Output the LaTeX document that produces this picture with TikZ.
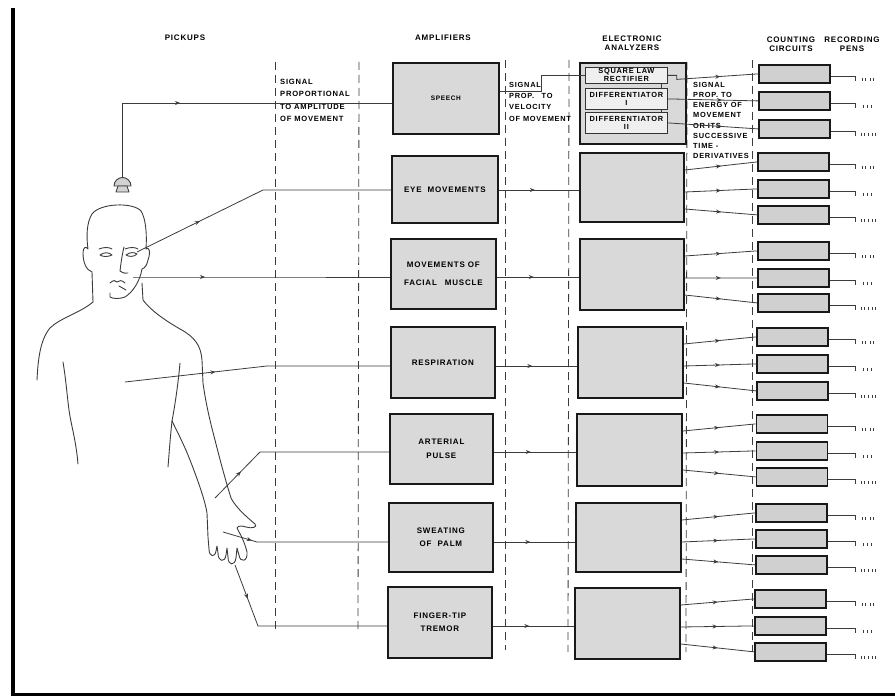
\documentclass[tikz,border=0pt]{standalone}
\usepackage{fontspec}
\newfontfamily\lab[LetterSpace=10]{Liberation Sans}
\usetikzlibrary{decorations.markings,calc,arrows.meta}

\definecolor{ink}{HTML}{3C3C3C}
\definecolor{boxfill}{HTML}{D9D9D9}
\definecolor{cntfill}{HTML}{D0D0D0}
\definecolor{innerfill}{HTML}{EFEFEF}

\tikzset{
  wire/.style={draw=ink, line width=0.8pt},
  arr/.style={postaction={decorate},
    decoration={markings, mark=at position #1 with {\arrow[ink]{Stealth[length=5pt,width=4pt]}}}},
  arr/.default=0.5,
  ampbox/.style={draw=black!90, line width=1.8pt, fill=boxfill, inner sep=0pt, align=center,
    anchor=north west, font=\lab\bfseries\fontsize{8}{13.5}\selectfont},
  anbox/.style={draw=black!90, line width=1.8pt, fill=boxfill, inner sep=0pt, anchor=north west},
  cntbox/.style={draw=black!90, line width=1.8pt, fill=cntfill, minimum width=71pt,
    minimum height=18pt, inner sep=0pt, anchor=north west},
  inbox/.style={draw=black!80, line width=0.8pt, fill=innerfill, inner sep=0pt, align=center,
    anchor=north west, minimum width=82pt, font=\lab\bfseries\fontsize{7.4}{8}\selectfont},
  sep/.style={draw=ink, line width=0.8pt, dash pattern=on 8pt off 5pt},
  head/.style={font=\lab\bfseries\fontsize{8}{9}\selectfont, align=center, inner sep=0pt},
  note/.style={font=\lab\bfseries\fontsize{7.8}{11.3}\selectfont, align=left, inner sep=0pt, anchor=north west},
  body/.style={draw=ink, line width=0.9pt, line cap=round, line join=round},
}

\begin{document}
\begin{tikzpicture}[x=1pt,y=-1pt]
\useasboundingbox (0,0) rectangle (895,698);
\fill[white] (0,0) rectangle (895,698);

% frame
\draw[line width=3.5pt, black] (13,8) -- (13,694);
\draw[line width=3pt, black] (11.25,694) -- (895,694);

% column headings
\node[head] (hPick) at (185,38) {PICKUPS};
\node[head] (hAmp) at (443,38) {AMPLIFIERS};
\node[head] (hAna) at (632,43) {ELECTRONIC\\ANALYZERS};
\node[head] (hCnt) at (791,44) {COUNTING\\CIRCUITS};
\node[head] (hPen) at (852,44) {RECORDING\\PENS};

% dashed column separators
\draw[sep] (275,62) -- (275,632);
\draw[sep] (359,62) -- (358,632);
\draw[sep] (505,60) -- (505,650);
\draw[sep] (569,60) -- (568,652);
\draw[sep] (687,62) -- (686,652);
\draw[sep] (752,60) -- (752,652);

% signal notes
\node[note, font=\lab\bfseries\fontsize{7.6}{12.3}\selectfont] (nAmpl) at (280,79)
  {SIGNAL\\PROPORTIONAL\\TO AMPLITUDE\\OF MOVEMENT};
\node[note, font=\lab\bfseries\fontsize{7.4}{11.3}\selectfont] (nVel) at (509,82) {SIGNAL\\PROP.\quad TO\\VELOCITY\\OF MOVEMENT};
\node[note, font=\lab\bfseries\fontsize{7.4}{10.2}\selectfont] (nEn) at (693,82)
  {SIGNAL\\PROP. TO\\ENERGY OF\\MOVEMENT\\OR ITS\\SUCCESSIVE\\TIME -\\DERIVATIVES};

% amplifiers
\node[ampbox, minimum width=106pt, minimum height=71pt, font=\lab\bfseries\fontsize{6.5}{8}\selectfont] (amp1) at (392,62) {SPEECH};
\node[ampbox, minimum width=106pt, minimum height=67pt] (amp2) at (391,155) {EYE\ \ MOVEMENTS};
\node[ampbox, minimum width=105pt, minimum height=70pt] (amp3) at (390,238) {MOVEMENTS OF\\[5pt]FACIAL\quad MUSCLE};
\node[ampbox, minimum width=104pt, minimum height=71pt] (amp4) at (390,326) {RESPIRATION};
\node[ampbox, minimum width=103pt, minimum height=70pt] (amp5) at (389,413) {ARTERIAL\\PULSE};
\node[ampbox, minimum width=104pt, minimum height=69pt] (amp6) at (388,502) {SWEATING\\OF\ \ PALM};
\node[ampbox, minimum width=104pt, minimum height=71pt] (amp7) at (387,586) {FINGER-TIP\\TREMOR};

% electronic analyzers
\node[anbox, minimum width=106pt, minimum height=81pt] (an1) at (579,62) {};
\node[anbox, minimum width=104pt, minimum height=69pt] (an2) at (579,152) {};
\node[anbox, minimum width=104pt, minimum height=71pt] (an3) at (579,238) {};
\node[anbox, minimum width=105pt, minimum height=71pt] (an4) at (577,326) {};
\node[anbox, minimum width=105pt, minimum height=72pt] (an5) at (576,413) {};
\node[anbox, minimum width=105pt, minimum height=69pt] (an6) at (575,502) {};
\node[anbox, minimum width=105pt, minimum height=71pt] (an7) at (574,587) {};

% speech analyzer stages
\node[inbox, minimum height=16pt] (sq) at (585,67) {SQUARE LAW\\RECTIFIER};
\node[inbox, minimum height=21pt] (d1) at (585,88) {DIFFERENTIATOR\\I};
\node[inbox, minimum height=21pt] (d2) at (585,112) {DIFFERENTIATOR\\II};
\draw[wire] ($(sq.south east)+(-6,0)$) -- ($(d1.north east)+(-6,0)$);
\draw[wire] ($(d1.south east)+(-6,0)$) -- ($(d2.north east)+(-6,0)$);

% counting circuits and recording pens
\foreach \g/\ta/\tb/\tc in {1/64/91/119, 2/152/179/205, 3/241/268/293, 4/327/354/381,
                            5/414/441/467, 6/503/529/555, 7/589/616/642}{
  \foreach \k/\t/\ticks in {1/\ta/{7,10,15,18}, 2/\tb/{8,12,16}, 3/\tc/{6,9,13,17,20}}{
    \node[cntbox] (c\g\k) at ({758-0.6*(\g-1)},\t) {};
    \coordinate (p\g\k) at (855,{\t+12});
    \draw[wire] (c\g\k.east |- p\g\k) -- (p\g\k) -- ++(0,5);
    \foreach \m in \ticks
      \draw[ink, line width=0.7pt] ($(p\g\k)+(\m,2)$) -- ++(0,3);
  }
}

% human figure
\draw[body] (93,302) -- (92,272) .. controls (86,270) and (83,262) .. (83,253)
  .. controls (83,247) and (86,246) .. (88,249) .. controls (86,235) and (87,222) .. (92,214)
  .. controls (100,203) and (133,202) .. (141,211) .. controls (146,219) and (147,235) .. (146,249)
  .. controls (149,246) and (151,252) .. (148,260) .. controls (147,265) and (145,268) .. (142,269)
  .. controls (140,281) and (133,292) .. (125,297) .. controls (120,299) and (113,299) .. (110,297)
  -- (110,293);
\draw[body] (142,283) -- (143,300) .. controls (152,312) and (168,322) .. (180,329)
  .. controls (195,337) and (201,346) .. (202,360) -- (203,383)
  .. controls (206,405) and (211,425) .. (215,440) .. controls (220,460) and (226,482) .. (231,498)
  .. controls (236,508) and (248,518) .. (255,524) .. controls (258,527) and (252,529) .. (246,527)
  .. controls (242,526) and (239,525) .. (237,528) .. controls (240,534) and (244,540) .. (247,552)
  .. controls (248,562) and (240,563) .. (239,555) -- (237,548) -- (236,558)
  .. controls (235,566) and (228,566) .. (228,557) -- (227,548) -- (226,555)
  .. controls (225,563) and (218,562) .. (218,553) -- (217,546) -- (216,551)
  .. controls (215,558) and (209,557) .. (209,549) -- (208,537) -- (207,513)
  .. controls (205,500) and (197,478) .. (190,460) .. controls (185,447) and (178,433) .. (172,421);
\draw[body] (180,363) .. controls (178,385) and (175,405) .. (172,421)
  .. controls (170,440) and (169,455) .. (168,467);
\draw[body] (93,302) .. controls (80,313) and (60,318) .. (50,328)
  .. controls (40,340) and (38,360) .. (37,380);
\draw[body] (63,362) .. controls (66,380) and (67,395) .. (69,410)
  .. controls (71,425) and (76,440) .. (78,464);
% face
\draw[body] (99,249) .. controls (104,247) and (109,247) .. (112,249);
\draw[body] (100,255) .. controls (104,252) and (109,252) .. (112,255) .. controls (108,257) and (103,257) .. (100,255);
\draw[body] (125,249) .. controls (130,247) and (135,247) .. (138,249);
\draw[body] (126,255) .. controls (130,252) and (134,252) .. (137,254) .. controls (134,257) and (129,257) .. (126,255);
\draw[body] (124,247) .. controls (122,255) and (121,263) .. (120,271) .. controls (123,273) and (126,274) .. (128,273);
\draw[body] (110,283) .. controls (113,280) and (116,280) .. (117,282) .. controls (119,280) and (122,280) .. (125,283);
\draw[body] (119,286) -- (126,290);

% microphone
\filldraw[body, fill=gray!35] (114,186) arc[start angle=180, end angle=360, radius=8.5] -- cycle;
\filldraw[body, fill=gray!35] (118,186) -- (127,186) -- (129,192) -- (116,192) -- cycle;

% pickup points and bends
\coordinate (pk1) at (122.5,177.5); \coordinate (b1) at (122.5,103);
\coordinate (pk2) at (137,252);     \coordinate (b2) at (263,190);
\coordinate (pk3) at (133,277);     \coordinate (b3) at (263,277);
\coordinate (pk4) at (125,382);     \coordinate (b4) at (267,366);
\coordinate (pk5) at (215,498);     \coordinate (b5) at (260,452);
\coordinate (pk6) at (223,532);     \coordinate (b6) at (257,542);
\coordinate (pk7) at (235,565);     \coordinate (b7) at (258,626);

% pickups to amplifiers
\draw[wire, arr=132pt] (pk1) -- (b1) -- (amp1.west |- b1);
\draw[wire, arr=70pt]  (pk2) -- (b2) -- (amp2.west |- b2);
\draw[wire, arr=72pt]  (pk3) -- (b3) -- (amp3.west |- b3);
\draw[wire, arr=91pt]  (pk4) -- (b4) -- (amp4.west |- b4);
\draw[wire, arr=37pt]  (pk5) -- (b5) -- (amp5.west |- b5);
\draw[wire, arr=30pt]  (pk6) -- (b6) -- (amp6.west |- b6);
\draw[wire, arr=36pt]  (pk7) -- (b7) -- (amp7.west |- b7);

% amplifiers to analyzers
\coordinate (v1) at (541,91);
\draw[wire] (amp1.east |- v1) -- (v1) -- (v1 |- sq.west) -- (sq.west);
\foreach \g in {2,...,7}
  \draw[wire, arr=0.45] (amp\g.east |- b\g) -- (an\g.west |- b\g);

% analyzers to counting circuits
\draw[wire, arr=0.6] (sq.east) -- ++(9,0) -- ++(0,4) -- (c11.west);
\draw[wire, arr=0.6] (d1.east) -- (c12.west);
\draw[wire, arr=0.6] (d2.east) -- (c13.west);
\foreach \g in {2,...,7}{
  \draw[wire, arr] ($(an\g.north east)+(0,18)$) -- (c\g1.west);
  \draw[wire, arr] ($(an\g.north east)+(0,40)$) -- (c\g2.west);
  \draw[wire, arr] ($(an\g.north east)+(0,57)$) -- (c\g3.west);
}
\end{tikzpicture}
\end{document}
